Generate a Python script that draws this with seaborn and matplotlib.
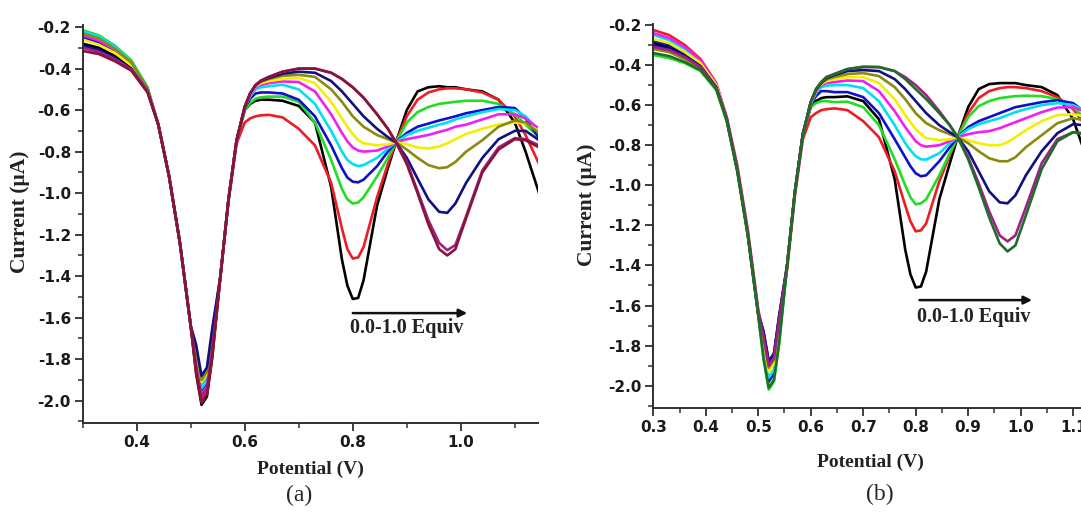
import matplotlib
matplotlib.use("Agg")
import matplotlib.pyplot as plt
import seaborn as sns
import pandas as pd
from matplotlib.ticker import MultipleLocator, FormatStrFormatter

# ---------------- data ----------------
potential = [0.30, 0.33, 0.36, 0.39, 0.42, 0.44, 0.46, 0.48, 0.50, 0.51, 0.52, 0.53,
             0.54, 0.555, 0.57, 0.585, 0.60, 0.61, 0.62, 0.63,
             0.645, 0.67, 0.70, 0.73, 0.76, 0.78, 0.79, 0.80, 0.81, 0.82, 0.845, 0.865,
             0.88, 0.90, 0.92, 0.94, 0.96, 0.975, 0.99, 1.01, 1.04, 1.07, 1.10, 1.12, 1.145]

equiv_labels = ["0.0", "0.1", "0.2", "0.3", "0.4", "0.5", "0.6", "0.7", "0.8", "0.9", "1.0"]

# panel (a)
a_00 = [-0.28, -0.30, -0.34, -0.395, -0.505, -0.67, -0.92, -1.24, -1.64, -1.87, -2.02, -1.98, -1.79, -1.40, -1.03, -0.745, -0.60, -0.57, -0.555, -0.55,
        -0.55, -0.555, -0.58, -0.66, -0.97, -1.32, -1.445, -1.51, -1.505, -1.42, -1.06, -0.88, -0.755, -0.60, -0.51, -0.49, -0.485, -0.49, -0.49, -0.50, -0.51, -0.55, -0.66, -0.80, -1.00]
a_01 = [-0.25, -0.275, -0.32, -0.38, -0.50, -0.67, -0.92, -1.24, -1.64, -1.85, -2.00, -1.96, -1.77, -1.40, -1.04, -0.76, -0.66, -0.64, -0.63, -0.625,
        -0.623, -0.635, -0.69, -0.77, -0.95, -1.17, -1.27, -1.315, -1.31, -1.26, -1.02, -0.86, -0.755, -0.63, -0.55, -0.515, -0.50, -0.495, -0.495, -0.50, -0.515, -0.55, -0.63, -0.72, -0.86]
a_02 = [-0.215, -0.24, -0.29, -0.36, -0.49, -0.67, -0.92, -1.24, -1.64, -1.78, -1.93, -1.89, -1.70, -1.40, -1.03, -0.745, -0.60, -0.565, -0.545, -0.538,
        -0.535, -0.535, -0.56, -0.66, -0.84, -0.98, -1.03, -1.05, -1.045, -1.02, -0.92, -0.83, -0.755, -0.66, -0.61, -0.585, -0.57, -0.565, -0.56, -0.555, -0.555, -0.57, -0.62, -0.67, -0.73]
a_03 = [-0.25, -0.275, -0.32, -0.38, -0.50, -0.67, -0.92, -1.24, -1.64, -1.81, -1.96, -1.92, -1.73, -1.40, -1.03, -0.745, -0.59, -0.545, -0.52, -0.515,
        -0.515, -0.52, -0.55, -0.63, -0.77, -0.88, -0.925, -0.945, -0.948, -0.935, -0.87, -0.80, -0.755, -0.71, -0.68, -0.665, -0.65, -0.64, -0.63, -0.615, -0.60, -0.585, -0.59, -0.64, -0.735]
a_04 = [-0.22, -0.245, -0.295, -0.365, -0.49, -0.67, -0.92, -1.24, -1.64, -1.79, -1.94, -1.90, -1.71, -1.40, -1.03, -0.745, -0.585, -0.535, -0.50, -0.49,
        -0.485, -0.478, -0.50, -0.57, -0.70, -0.80, -0.84, -0.86, -0.87, -0.865, -0.83, -0.785, -0.755, -0.72, -0.70, -0.685, -0.67, -0.66, -0.645, -0.63, -0.61, -0.595, -0.60, -0.63, -0.70]
a_05 = [-0.24, -0.265, -0.31, -0.375, -0.495, -0.67, -0.92, -1.24, -1.64, -1.82, -1.97, -1.93, -1.74, -1.40, -1.03, -0.745, -0.585, -0.53, -0.49, -0.478,
        -0.47, -0.462, -0.465, -0.51, -0.62, -0.71, -0.75, -0.78, -0.795, -0.80, -0.795, -0.775, -0.755, -0.74, -0.73, -0.72, -0.705, -0.695, -0.68, -0.67, -0.645, -0.62, -0.62, -0.64, -0.69]
a_06 = [-0.26, -0.285, -0.325, -0.385, -0.50, -0.67, -0.92, -1.24, -1.64, -1.76, -1.91, -1.87, -1.68, -1.40, -1.03, -0.745, -0.585, -0.525, -0.485, -0.47,
        -0.46, -0.45, -0.445, -0.47, -0.56, -0.64, -0.68, -0.715, -0.745, -0.76, -0.77, -0.765, -0.755, -0.765, -0.78, -0.785, -0.775, -0.76, -0.74, -0.715, -0.69, -0.67, -0.66, -0.665, -0.70]
a_07 = [-0.23, -0.255, -0.305, -0.37, -0.495, -0.67, -0.92, -1.24, -1.64, -1.75, -1.90, -1.86, -1.67, -1.40, -1.03, -0.745, -0.585, -0.52, -0.48, -0.463,
        -0.45, -0.435, -0.43, -0.44, -0.50, -0.56, -0.595, -0.63, -0.655, -0.68, -0.72, -0.74, -0.755, -0.79, -0.83, -0.865, -0.88, -0.875, -0.85, -0.80, -0.745, -0.68, -0.65, -0.66, -0.71]
a_08 = [-0.29, -0.31, -0.35, -0.40, -0.51, -0.67, -0.92, -1.24, -1.64, -1.73, -1.88, -1.84, -1.65, -1.40, -1.03, -0.745, -0.585, -0.52, -0.48, -0.46,
        -0.445, -0.425, -0.415, -0.42, -0.46, -0.51, -0.54, -0.57, -0.60, -0.63, -0.69, -0.73, -0.755, -0.83, -0.93, -1.03, -1.09, -1.095, -1.05, -0.95, -0.83, -0.74, -0.70, -0.70, -0.745]
a_09 = [-0.30, -0.32, -0.355, -0.405, -0.51, -0.67, -0.92, -1.24, -1.64, -1.83, -1.98, -1.94, -1.75, -1.40, -1.03, -0.745, -0.585, -0.52, -0.48, -0.458,
        -0.44, -0.415, -0.40, -0.40, -0.42, -0.45, -0.47, -0.49, -0.515, -0.54, -0.62, -0.69, -0.755, -0.85, -0.99, -1.13, -1.24, -1.275, -1.25, -1.11, -0.89, -0.78, -0.735, -0.74, -0.77]
a_10 = [-0.315, -0.33, -0.365, -0.41, -0.515, -0.67, -0.92, -1.24, -1.64, -1.86, -2.01, -1.97, -1.78, -1.40, -1.03, -0.745, -0.585, -0.52, -0.48, -0.458,
        -0.44, -0.415, -0.40, -0.40, -0.42, -0.45, -0.47, -0.49, -0.515, -0.54, -0.62, -0.69, -0.755, -0.86, -1.00, -1.15, -1.27, -1.30, -1.27, -1.12, -0.90, -0.79, -0.74, -0.745, -0.78]

# panel (b)
b_00 = [-0.29, -0.31, -0.35, -0.40, -0.51, -0.67, -0.92, -1.24, -1.64, -1.73, -1.88, -1.84, -1.65, -1.40, -1.03, -0.745, -0.61, -0.58, -0.565, -0.56,
        -0.56, -0.556, -0.58, -0.67, -0.97, -1.32, -1.445, -1.51, -1.505, -1.43, -1.07, -0.89, -0.76, -0.61, -0.52, -0.495, -0.49, -0.49, -0.49, -0.50, -0.51, -0.55, -0.67, -0.82, -1.00]
b_01 = [-0.225, -0.25, -0.30, -0.37, -0.49, -0.66, -0.90, -1.22, -1.62, -1.75, -1.90, -1.86, -1.68, -1.42, -1.05, -0.77, -0.66, -0.64, -0.625, -0.62,
        -0.616, -0.625, -0.68, -0.76, -0.93, -1.10, -1.18, -1.23, -1.225, -1.19, -0.98, -0.85, -0.76, -0.64, -0.565, -0.53, -0.515, -0.51, -0.51, -0.515, -0.53, -0.56, -0.62, -0.69, -0.78]
b_02 = [-0.35, -0.365, -0.39, -0.43, -0.525, -0.68, -0.93, -1.25, -1.65, -1.87, -2.02, -1.98, -1.79, -1.40, -1.03, -0.745, -0.61, -0.59, -0.58, -0.58,
        -0.585, -0.583, -0.61, -0.70, -0.87, -1.00, -1.06, -1.095, -1.09, -1.07, -0.95, -0.84, -0.76, -0.66, -0.605, -0.58, -0.565, -0.56, -0.555, -0.553, -0.555, -0.57, -0.61, -0.66, -0.72]
b_03 = [-0.28, -0.30, -0.34, -0.395, -0.505, -0.67, -0.92, -1.24, -1.64, -1.83, -1.98, -1.94, -1.75, -1.40, -1.03, -0.745, -0.60, -0.555, -0.53, -0.53,
        -0.535, -0.535, -0.56, -0.64, -0.77, -0.86, -0.905, -0.94, -0.955, -0.95, -0.88, -0.81, -0.76, -0.71, -0.68, -0.66, -0.64, -0.625, -0.61, -0.60, -0.585, -0.575, -0.59, -0.63, -0.70]
b_04 = [-0.25, -0.275, -0.32, -0.38, -0.50, -0.67, -0.92, -1.24, -1.64, -1.81, -1.96, -1.92, -1.73, -1.40, -1.03, -0.745, -0.595, -0.54, -0.51, -0.503,
        -0.50, -0.50, -0.515, -0.58, -0.70, -0.79, -0.825, -0.855, -0.87, -0.872, -0.84, -0.79, -0.76, -0.72, -0.695, -0.68, -0.665, -0.65, -0.635, -0.62, -0.60, -0.59, -0.60, -0.625, -0.68]
b_05 = [-0.24, -0.265, -0.31, -0.375, -0.495, -0.67, -0.92, -1.24, -1.64, -1.74, -1.89, -1.85, -1.66, -1.40, -1.03, -0.745, -0.59, -0.535, -0.50, -0.49,
        -0.485, -0.477, -0.48, -0.53, -0.63, -0.71, -0.745, -0.78, -0.80, -0.807, -0.80, -0.78, -0.76, -0.745, -0.735, -0.73, -0.715, -0.70, -0.685, -0.665, -0.635, -0.612, -0.61, -0.63, -0.67]
b_06 = [-0.27, -0.29, -0.335, -0.39, -0.50, -0.67, -0.92, -1.24, -1.64, -1.78, -1.93, -1.89, -1.70, -1.40, -1.03, -0.745, -0.59, -0.53, -0.495, -0.48,
        -0.47, -0.46, -0.46, -0.49, -0.57, -0.65, -0.685, -0.72, -0.745, -0.765, -0.775, -0.77, -0.76, -0.775, -0.79, -0.80, -0.80, -0.785, -0.76, -0.725, -0.68, -0.65, -0.645, -0.655, -0.69]
b_07 = [-0.32, -0.335, -0.37, -0.415, -0.515, -0.67, -0.92, -1.24, -1.64, -1.76, -1.91, -1.87, -1.68, -1.40, -1.03, -0.745, -0.585, -0.525, -0.49, -0.472,
        -0.46, -0.445, -0.44, -0.455, -0.51, -0.57, -0.605, -0.64, -0.665, -0.69, -0.725, -0.745, -0.76, -0.79, -0.83, -0.865, -0.88, -0.88, -0.86, -0.81, -0.75, -0.69, -0.665, -0.675, -0.71]
b_08 = [-0.30, -0.32, -0.355, -0.405, -0.51, -0.67, -0.92, -1.24, -1.64, -1.73, -1.88, -1.84, -1.65, -1.40, -1.03, -0.745, -0.585, -0.525, -0.49, -0.465,
        -0.45, -0.43, -0.425, -0.43, -0.47, -0.52, -0.55, -0.58, -0.61, -0.64, -0.70, -0.735, -0.76, -0.83, -0.93, -1.03, -1.085, -1.09, -1.05, -0.95, -0.83, -0.74, -0.695, -0.70, -0.74]
b_09 = [-0.31, -0.325, -0.36, -0.41, -0.515, -0.67, -0.92, -1.24, -1.64, -1.75, -1.90, -1.86, -1.67, -1.40, -1.03, -0.745, -0.585, -0.52, -0.485, -0.46,
        -0.445, -0.42, -0.41, -0.41, -0.43, -0.46, -0.48, -0.50, -0.525, -0.55, -0.63, -0.70, -0.76, -0.86, -0.99, -1.13, -1.25, -1.28, -1.25, -1.11, -0.89, -0.77, -0.735, -0.74, -0.77]
b_10 = [-0.34, -0.355, -0.385, -0.425, -0.52, -0.68, -0.93, -1.25, -1.65, -1.86, -2.01, -1.97, -1.78, -1.40, -1.03, -0.745, -0.585, -0.52, -0.485, -0.46,
        -0.445, -0.42, -0.408, -0.41, -0.43, -0.47, -0.495, -0.52, -0.545, -0.57, -0.64, -0.70, -0.76, -0.87, -1.01, -1.16, -1.29, -1.33, -1.30, -1.15, -0.92, -0.78, -0.735, -0.745, -0.78]

colors_a = ["#000000", "#ee1c24", "#22dd22", "#1010c8", "#00e0f0", "#f020f0",
            "#f2f000", "#8a8a10", "#101080", "#a0208a", "#8a1438"]
colors_b = ["#000000", "#ee1c24", "#22dd22", "#1010c8", "#00e0f0", "#f020f0",
            "#f2f000", "#8a8a10", "#101080", "#a0208a", "#1f6e28"]

# ---------------- style ----------------
sns.set_theme(style="ticks")
plt.rcParams["font.family"] = ["DejaVu Sans"]
plt.rcParams["axes.unicode_minus"] = False

W, H = 1081, 514
fig = plt.figure(figsize=(W / 100, H / 100), dpi=100)
fig.patch.set_facecolor("white")


def frame(px_left, px_right, px_top, px_bottom):
    return [px_left / W, 1 - px_bottom / H, (px_right - px_left) / W, (px_bottom - px_top) / H]


axA = fig.add_axes(frame(82.7, 538, 25, 422.7))
axB = fig.add_axes(frame(653.3, 1081, 24, 407.7))


def draw(ax, series, colors):
    frames = []
    for lab, ys in zip(equiv_labels, series):
        frames.append(pd.DataFrame({"Potential": potential, "Current": ys, "Equiv": lab}))
    df = pd.concat(frames, ignore_index=True)
    sns.lineplot(data=df, x="Potential", y="Current", hue="Equiv", hue_order=equiv_labels,
                 palette=colors, sort=False, estimator=None, legend=False,
                 linewidth=1.9, ax=ax)
    for ln in ax.get_lines():
        ln.set_solid_joinstyle("round")
        ln.set_solid_capstyle("round")


draw(axA, [a_00, a_01, a_02, a_03, a_04, a_05, a_06, a_07, a_08, a_09, a_10], colors_a)
draw(axB, [b_00, b_01, b_02, b_03, b_04, b_05, b_06, b_07, b_08, b_09, b_10], colors_b)

axA.set_xlim(0.30, 1.143)
axA.set_ylim(-2.106, -0.19)
axB.set_xlim(0.30, 1.115)
axB.set_ylim(-2.11, -0.195)

axA.xaxis.set_major_locator(MultipleLocator(0.2))
axA.xaxis.set_minor_locator(MultipleLocator(0.1))
axB.xaxis.set_major_locator(MultipleLocator(0.1))
axB.xaxis.set_minor_locator(MultipleLocator(0.05))

for ax in (axA, axB):
    ax.set_facecolor("white")
    ax.grid(False)
    ax.yaxis.set_major_locator(MultipleLocator(0.2))
    ax.yaxis.set_minor_locator(MultipleLocator(0.1))
    ax.xaxis.set_major_formatter(FormatStrFormatter("%.1f"))
    ax.yaxis.set_major_formatter(FormatStrFormatter("%.1f"))
    for s in ("top", "right"):
        ax.spines[s].set_visible(False)
    for s in ("left", "bottom"):
        ax.spines[s].set_linewidth(1.4)
        ax.spines[s].set_color("#303030")
    ax.tick_params(which="major", direction="out", length=5.5, width=1.3, color="#303030",
                   labelsize=11, pad=3)
    ax.tick_params(which="minor", direction="out", length=3.5, width=1.1, color="#303030")
    for t in ax.get_xticklabels() + ax.get_yticklabels():
        t.set_fontweight("bold")
        t.set_color("#1a1a1a")
    ax.set_xlabel("")
    ax.set_ylabel("")

serif = ["Liberation Serif", "DejaVu Serif"]
# axis titles
fig.text(310 / W, 1 - 469 / H, "Potential (V)", ha="center", va="center",
         family=serif, fontweight="bold", fontsize=14, color="#222222")
fig.text(870 / W, 1 - 462 / H, "Potential (V)", ha="center", va="center",
         family=serif, fontweight="bold", fontsize=14, color="#222222")
fig.text(20 / W, 1 - 212 / H, "Current (\u03bcA)", ha="center", va="center", rotation=90,
         family=serif, fontweight="bold", fontsize=15.5, color="#222222")
fig.text(587 / W, 1 - 205 / H, "Current (\u03bcA)", ha="center", va="center", rotation=90,
         family=serif, fontweight="bold", fontsize=15.5, color="#222222")
fig.text(299 / W, 1 - 495 / H, "(a)", ha="center", va="center", family=serif, fontsize=17)
fig.text(880 / W, 1 - 494 / H, "(b)", ha="center", va="center", family=serif, fontsize=17)

# arrows and annotation
axA.annotate("", xy=(1.017, -1.578), xytext=(0.795, -1.578),
             arrowprops=dict(arrowstyle="-|>", color="#111111", lw=1.8, mutation_scale=12))
axA.text(0.795, -1.65, "0.0-1.0 Equiv", ha="left", va="center", family=serif,
         fontweight="bold", fontsize=14.5, color="#222222")
axB.annotate("", xy=(1.027, -1.573), xytext=(0.802, -1.573),
             arrowprops=dict(arrowstyle="-|>", color="#111111", lw=1.8, mutation_scale=12))
axB.text(0.802, -1.657, "0.0-1.0 Equiv", ha="left", va="center", family=serif,
         fontweight="bold", fontsize=14.5, color="#222222")

fig.savefig("out.png", dpi=100, facecolor="white")
